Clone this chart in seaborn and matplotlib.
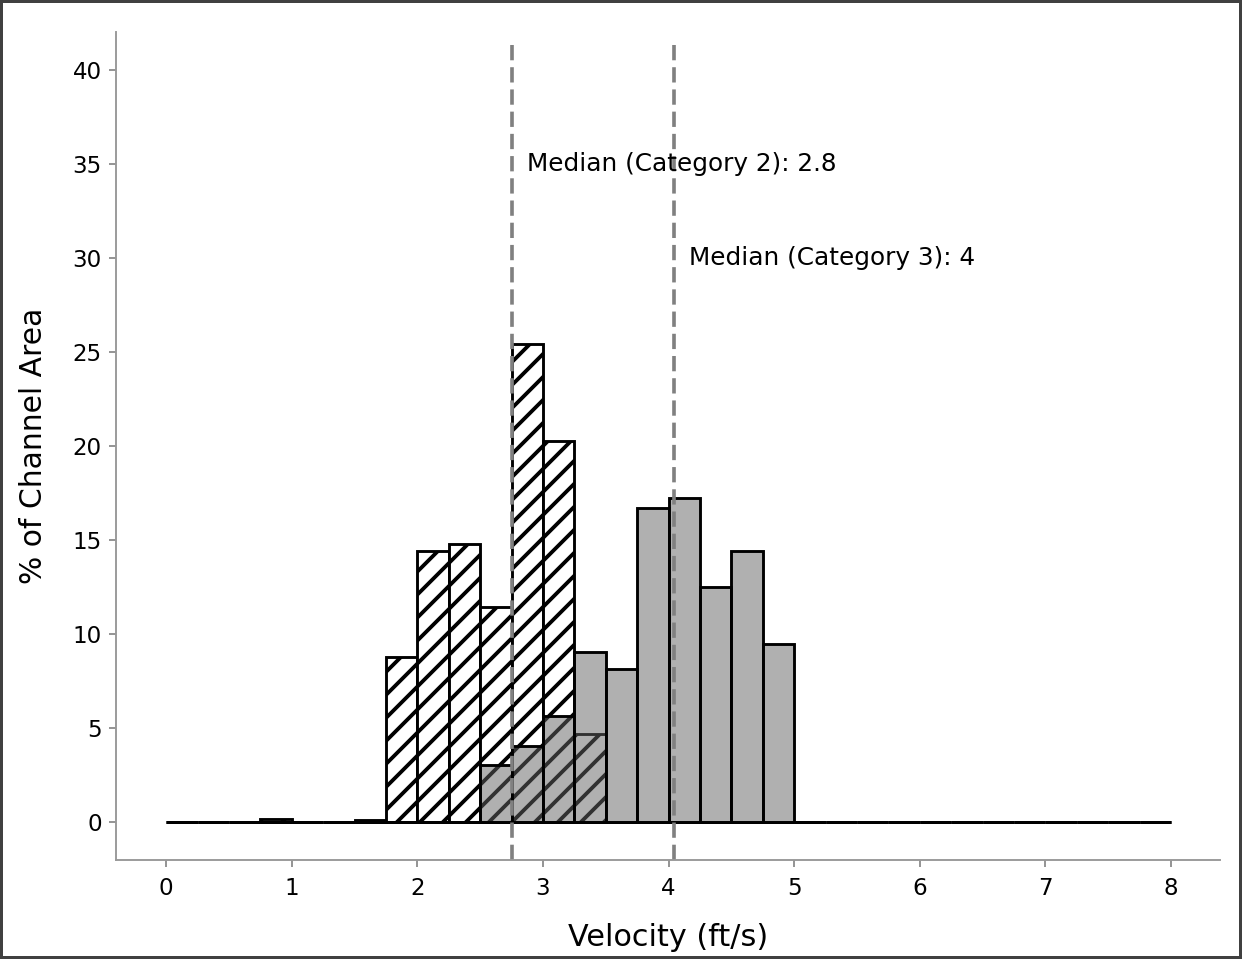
import matplotlib
matplotlib.use("Agg")
import matplotlib.pyplot as plt
import numpy as np
import seaborn as sns

# velocity bins, 0.25 ft/s wide, 0 to 8
bin_edges = [i * 0.25 for i in range(33)]
bin_centers = [e + 0.125 for e in bin_edges[:-1]]

# % of channel area per bin
cat2_pct = [0, 0, 0, 0.2, 0, 0, 0.12, 8.77,
            14.4, 14.8, 11.47, 25.4, 20.24, 4.67, 0, 0,
            0, 0, 0, 0, 0, 0, 0, 0,
            0, 0, 0, 0, 0, 0, 0, 0]
cat3_pct = [0, 0, 0, 0, 0, 0, 0, 0,
            0, 0, 3.03, 4.04, 5.63, 9.04, 8.13, 16.68,
            17.23, 12.5, 14.43, 9.46, 0, 0, 0, 0,
            0, 0, 0, 0, 0, 0, 0, 0]

median_cat2 = 2.755
median_cat3 = 4.045
median_labels = ["Median (Category 2): 2.8", "Median (Category 3): 4"]

sns.set_style("white")
plt.rcParams["font.family"] = ["DejaVu Sans"]
plt.rcParams["text.color"] = "black"
plt.rcParams["axes.labelcolor"] = "black"
plt.rcParams["hatch.linewidth"] = 2.0

fig = plt.figure(figsize=(9, 6.95), dpi=138)
fig.patch.set_edgecolor("#404040")
fig.patch.set_linewidth(3)
ax = fig.add_axes([0.0934, 0.1032, 0.8889, 0.8634])

sns.histplot(x=bin_centers, weights=cat2_pct, bins=bin_edges, stat="count",
             color="white", edgecolor="black", linewidth=1.5, hatch="//",
             alpha=1, ax=ax)
n_before = len(ax.patches)
sns.histplot(x=bin_centers, weights=cat3_pct, bins=bin_edges, stat="count",
             color="#646464", edgecolor="black", linewidth=1.5,
             alpha=1, ax=ax)
for p in ax.patches[n_before:]:
    p.set_alpha(None)
    p.set_facecolor((0.39, 0.39, 0.39, 0.5))
    p.set_edgecolor("black")

for m in [median_cat2, median_cat3]:
    ax.axvline(m, ymin=0, ymax=0.985, color="#808080", lw=1.9,
               dashes=(4.2, 1.9))

ax.text(median_cat2 + 0.12, 35, median_labels[0], fontsize=12.9, va="center")
ax.text(median_cat3 + 0.12, 30, median_labels[1], fontsize=12.9, va="center")

ax.set_xlim(-0.4, 8.39)
ax.set_ylim(-2, 42)
ax.set_xticks(range(0, 9))
ax.set_yticks(range(0, 41, 5))
ax.set_xlabel("Velocity (ft/s)", fontsize=15.8, labelpad=12)
ax.set_ylabel("% of Channel Area", fontsize=15.5, labelpad=13)

for s in ["top", "right"]:
    ax.spines[s].set_visible(False)
for s in ["left", "bottom"]:
    ax.spines[s].set_color("#999999")
    ax.spines[s].set_linewidth(1)
ax.tick_params(axis="both", colors="#777777", labelcolor="black",
               length=3.7, width=0.8, labelsize=12, direction="out")
ax.tick_params(axis="x", pad=5, bottom=True)
ax.tick_params(axis="y", pad=3.7, left=True)

fig.savefig("out.png", dpi=138)
